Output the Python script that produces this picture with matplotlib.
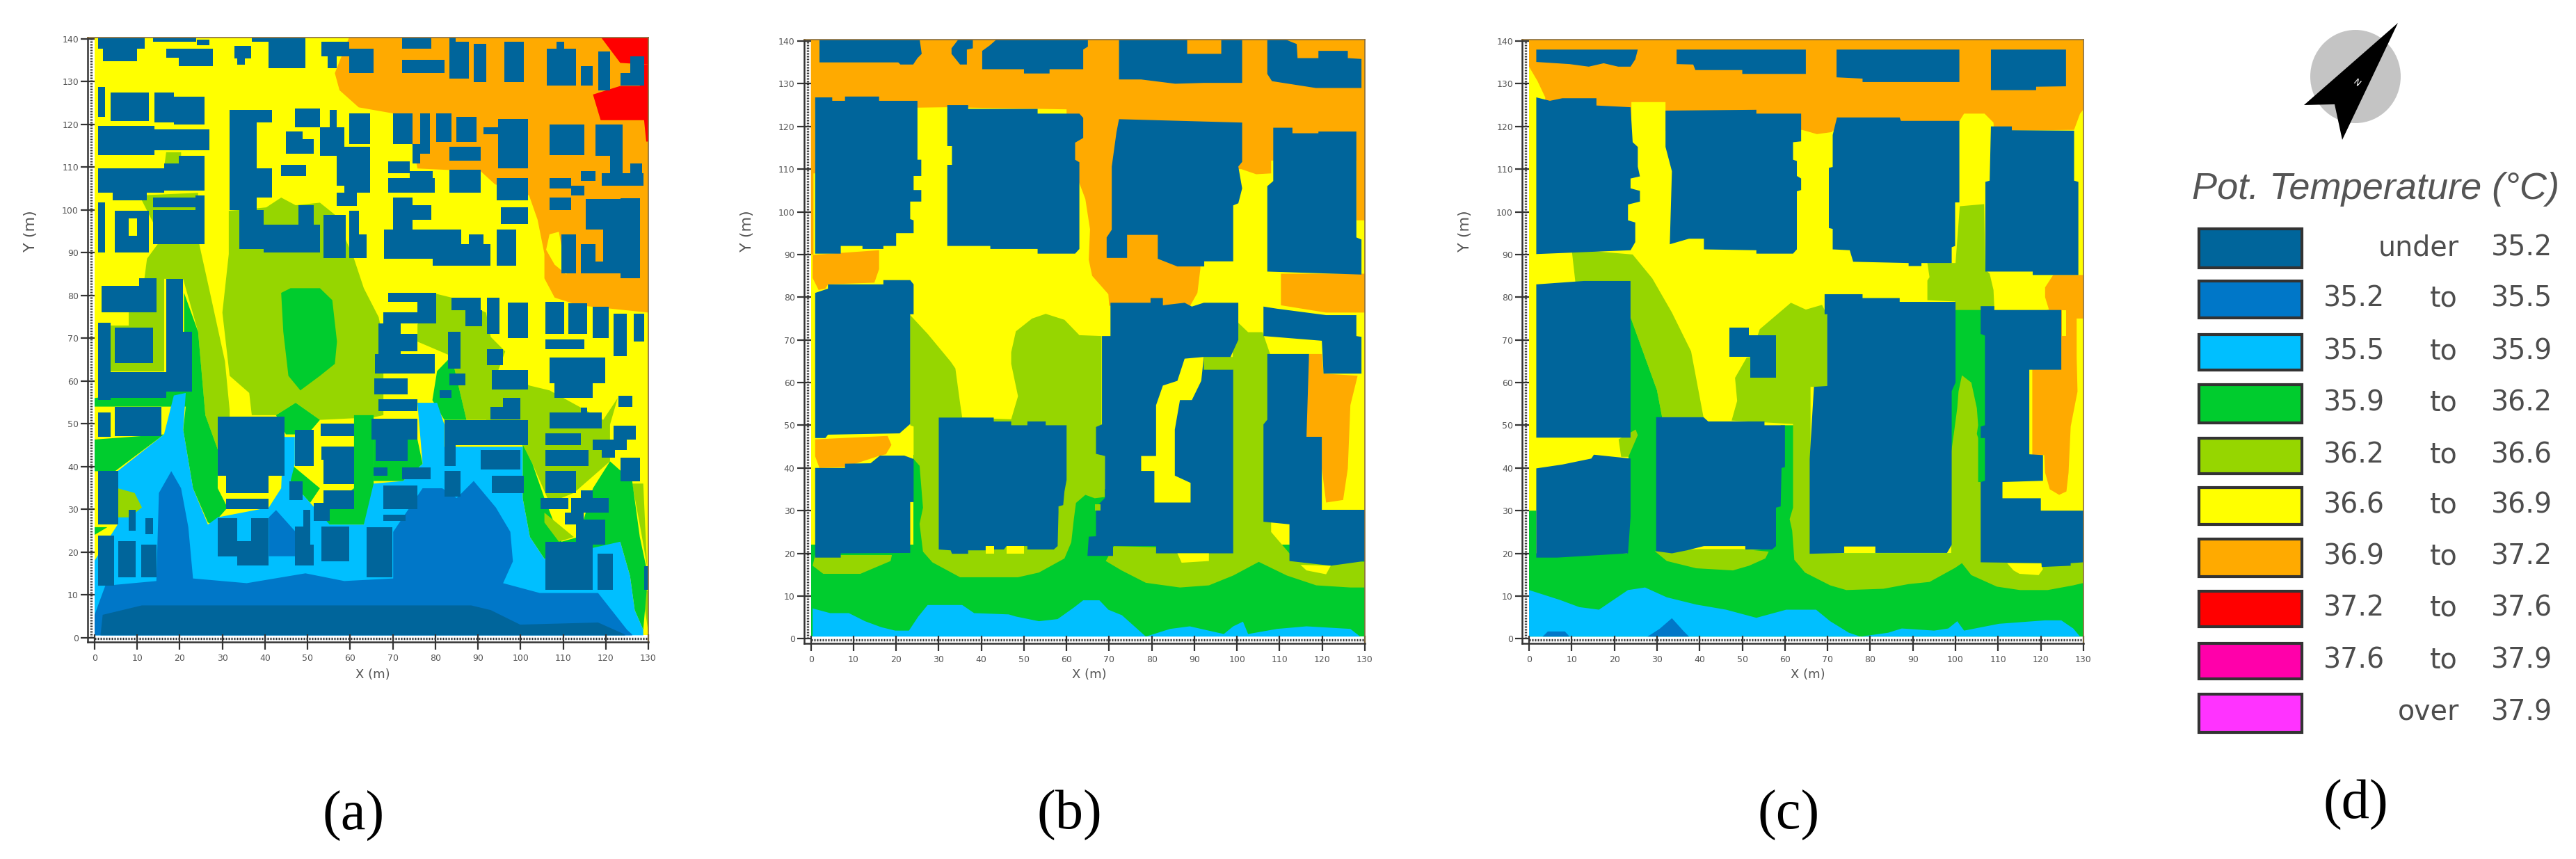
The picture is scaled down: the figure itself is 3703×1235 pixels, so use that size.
import matplotlib
matplotlib.use('Agg')
import matplotlib.pyplot as plt
from matplotlib.patches import Polygon, Rectangle, Ellipse

W, H = 3703, 1235

# legend classes, coolest first
level_colors = ['#00659b', '#0077c8', '#00bfff', '#00cc2e', '#96d600',
                '#ffff00', '#ffaa00', '#ff0000', '#ff00aa', '#ff33ff']
legend_low = ['under', '35.2', '35.5', '35.9', '36.2', '36.6', '36.9', '37.2', '37.6', 'over']
legend_high = ['35.2', '35.5', '35.9', '36.2', '36.6', '36.9', '37.2', '37.6', '37.9', '37.9']
DARK, BLUE, CYAN, GREEN, LIME, YELLOW, ORANGE, RED = range(8)

x_ticks = list(range(0, 131, 10))
y_ticks = list(range(0, 141, 10))

# ---- panel (a): (class, outline in metres), painted in this order
a_regions = [
    (ORANGE, [(59.8, 140.5), (56.4, 132), (57.5, 128), (62, 124), (70, 122.6), (74.7, 115), (75.8, 109.7),
              (90.7, 109), (94, 106), (102, 103.4), (104, 97.7), (105.6, 89.7), (105.6, 84), (108, 79.5),
              (113.6, 77.7), (130, 76), (130, 140.5)]),
    (YELLOW, [(106.8, 94.3), (109, 94.9), (110.8, 84.9), (108, 87.2), (106, 90.7)]),
    (RED, [(118.8, 140.5), (123.4, 134.4), (130, 134), (130, 140.5)]),
    (RED, [(117, 127), (118.8, 121), (129, 121), (129.5, 116), (130, 116), (130, 134), (128, 134),
           (128, 129), (123.4, 129)]),
    (LIME, [(30, 76), (31.5, 89.7), (31.5, 99.8), (34, 100), (40.3, 100.6), (43.8, 102.9), (47.2, 101.1),
            (52.9, 101.7), (56.4, 98.9), (60.9, 88.6), (63.2, 81.7), (66.7, 74.9), (67.8, 69.2), (67.8, 52),
            (65.5, 51.5), (52.9, 50.9), (47.2, 54.9), (42.6, 52), (36.9, 52), (36.3, 57.2), (31.7, 61.2)]),
    (LIME, [(10.5, 103.4), (24.3, 104), (24.3, 93.2), (27.1, 80.6), (30.6, 64.6), (31.7, 53.2), (31.7, 46.3),
            (28.9, 44), (26, 52), (24.3, 71.5), (20.8, 83.8), (11.7, 84), (12.3, 88.6), (15.7, 93.2)]),
    (LIME, [(16.3, 109.7), (16.8, 113.5), (20.3, 113.5), (20.3, 109.7)]),
    (LIME, [(3.7, 62.3), (16.3, 62.3), (16.3, 84), (14.5, 84), (14.5, 76), (8, 76), (8, 73), (3.7, 73)]),
    (LIME, [(79.3, 80.6), (83.8, 79.5), (91.9, 76), (93, 70.3), (96.4, 66.9), (94.7, 62.3), (102.2, 58.9),
            (106.8, 57.8), (119.4, 50.9), (122.8, 56), (121, 49.8), (121, 41.2), (112.5, 33.8), (106.8, 31.5),
            (102.8, 40.6), (100.5, 45.2), (91.9, 50.9), (87.3, 50.9), (83.8, 65.8), (75.8, 69.2), (75.8, 73.2)]),
    (LIME, [(126.2, 36), (128.8, 36), (129.7, 16.7), (128.3, 24.7)]),
    (LIME, [(128.5, 11), (130, 11), (130, 1.3)]),
    (GREEN, [(21, 80.6), (24.3, 71.5), (26, 52), (28.9, 44), (28.9, 34.9), (31.2, 30.4), (27.7, 26.4), (26.6, 26.9),
             (23.1, 34.9), (20.8, 48.6), (21.4, 54), (0, 54), (0, 56), (15.7, 58), (21, 58)]),
    (GREEN, [(0, 46.3), (16.3, 47.5), (4.8, 38.9), (0, 38.9)]),
    (GREEN, [(43.8, 80.6), (46, 81.7), (52.9, 81.7), (55.8, 78.9), (56.9, 69.2), (56.4, 64), (52.9, 61.2),
             (48.3, 57.8), (45.5, 61.2), (44.3, 71.5)]),
    (GREEN, [(42.6, 52), (47.2, 54.9), (52.9, 50.9), (50, 47.5), (44.9, 47.5)]),
    (GREEN, [(46, 40.6), (52.9, 34.9), (50.6, 31.5), (46, 36.6)]),
    (GREEN, [(60.9, 52), (65.5, 52), (65.5, 30.4), (63.2, 26.4), (55.2, 26.4), (51.6, 28.1), (60.9, 34.9)]),
    (GREEN, [(75.8, 46.3), (77, 40.6), (72.4, 36.6), (65.5, 36.6), (65.5, 46.3)]),
    (GREEN, [(80.4, 62.3), (83.8, 65.8), (87.3, 50.9), (82.1, 50.9), (79.3, 55.5)]),
    (GREEN, [(100.5, 45.2), (102.8, 40.6), (105.6, 32.6), (109.6, 22.4), (113.6, 23.5), (117, 34.9), (121, 41.2),
             (126.2, 36.6), (128, 23.5), (129.7, 15.5), (129.7, 12.1), (128.8, 1.8), (126.8, 6.4), (125.7, 14.4),
             (123.4, 22.4), (118.2, 20), (105.6, 18.4), (102.2, 23.5), (100.5, 32.6)]),
    (LIME, [(105.6, 29.2), (112.5, 23.5), (109, 22.4), (105.6, 26.9)]),
    (CYAN, [(0, 18), (5.4, 26.4), (5.4, 38.9), (16.3, 47.5), (18.6, 56.6), (21.4, 57.2), (20.8, 48.6), (23.1, 34.9),
            (26.6, 26.4), (28.9, 28.1), (40.9, 30.4), (43.8, 34.9), (44.3, 46.9), (47, 46.9), (47, 40.6), (46, 36.6),
            (50.6, 31.5), (55.2, 26.4), (63.2, 26.4), (65.5, 36), (72.4, 36.6), (77, 40.6), (75.8, 54.9), (80.4, 54.9),
            (82.1, 49.8), (82.1, 44.6), (100.5, 44.6), (100.5, 32.6), (102.2, 23.5), (105.6, 18.4), (123.4, 22.4),
            (125.7, 14.4), (126.8, 6.4), (128.8, 1.8), (128.8, 0.5), (0, 0.5)]),
    (GREEN, [(0, 25.8), (3, 25.8), (0, 24)]),
    (LIME, [(5.4, 34.9), (9.4, 33.8), (11.1, 30.4), (8.2, 28.1), (5.4, 28.1)]),
    (BLUE, [(0, 5.3), (2.5, 12.1), (14.5, 13.2), (15.1, 33.8), (18, 38.9), (20.3, 34.9), (22, 25.8), (23.1, 13.8),
            (35.7, 12.7), (49.5, 15), (58.6, 13.2), (70.1, 13.8), (70.1, 24.7), (77, 34.9), (81.6, 34.9), (85, 32.6),
            (89, 36.6), (94.2, 30.4), (97.6, 24.7), (98.2, 17.8), (95.9, 12.7), (104.5, 10.4), (118.2, 10.4),
            (125, 1.8), (126.2, 0.7), (126.2, 0.5), (0, 0.5)]),
    (BLUE, [(40.9, 28.1), (42.6, 29.8), (47.2, 24.7), (47.2, 19), (40.9, 19)]),
    (DARK, [(1.4, 0.7), (1.9, 5.3), (11.1, 7.5), (88.4, 7.5), (93, 6.4), (99.9, 3), (118.2, 3.5), (124.5, 0.7),
            (124.5, 0.5), (1.4, 0.5)]),
]

# buildings of (a): x0, y0, x1, y1 in metres
a_buildings = [
    (0.8, 137.7, 11.7, 140.5), (2, 134.8, 10, 137.7), (16.8, 135.6, 27.7, 137.7), (19.7, 133.7, 27.7, 135.6),
    (13.7, 139.4, 23.8, 140.5), (36.9, 139.4, 44, 140.5),
    (24, 138.6, 26.9, 139.9), (32.9, 135.4, 36.7, 138.3), (33.4, 134, 35.2, 135.4), (40.9, 133.1, 49.5, 139.4),
    (43.8, 139.4, 49.5, 140.5), (53.2, 136, 59.8, 139.4), (54.7, 133.1, 56.9, 136), (59.8, 132, 65.5, 137.7),
    (72.2, 137.7, 79, 140.5), (72.2, 132, 82.1, 135.2), (83.3, 130.8, 84.8, 140.5), (84.8, 130.8, 87.9, 139.4),
    (89, 129.9, 91.9, 138.8), (96.2, 129.9, 100.8, 139.4), (106.2, 129.1, 113, 137.7), (108.5, 137.7, 110.2, 139.4),
    (114.2, 129.1, 117, 133.7), (118.2, 128, 121, 137.1), (123.4, 129.1, 129.1, 132), (125.7, 132, 129.1, 136),
    (0.8, 121.7, 2.5, 128.8), (3.7, 120.8, 12.8, 127.4), (14, 120.5, 18.6, 127.4), (18.6, 120, 25.8, 126.5),
    (0.8, 112.8, 14, 119.6), (14, 113.9, 26.9, 118.8), (0.8, 104, 16.3, 109.7), (16.3, 104.6, 25.8, 110.8),
    (19.7, 110.8, 25.8, 112.6), (4.2, 102.3, 12.3, 104), (0.8, 90, 2.5, 101.7), (4.8, 90, 12.8, 99.8),
    (13.7, 100.6, 25.8, 102.9), (13.7, 92, 25.8, 100), (23.7, 100, 25.8, 103.4),
    (31.7, 120.5, 41.7, 123.4), (31.7, 100, 38, 120.5), (38, 102.9, 41.7, 109.7), (34, 90.9, 39.7, 100),
    (39.7, 90, 52.9, 96.6), (47.8, 96.6, 51.5, 101.1), (53.8, 88.8, 58.9, 98.9), (59.8, 88.8, 62, 99.8),
    (62, 88.8, 63.8, 94.3), (43.8, 108, 49.7, 110.5), (44.9, 113.1, 48.9, 118.3), (48.9, 113.1, 51.5, 116.6),
    (47, 119.4, 52.9, 123.7), (55.2, 119.4, 56.9, 123.4), (52.9, 112.6, 58.6, 119.4), (59.8, 115.4, 64.6, 122.6),
    (56.9, 105.7, 64.6, 114.8), (58.6, 104, 64.6, 105.7), (56.9, 101, 61.5, 104),
    (70.1, 115.4, 74.7, 122.6), (76.4, 113.1, 78.7, 122.6), (80.2, 116, 83.8, 122.6), (85, 116, 89.6, 121.7),
    (91.3, 117.7, 95.3, 119.4), (94.7, 109.7, 101.8, 121.3), (83.3, 111.6, 90.7, 114.8), (83.3, 104, 90.7, 109.4),
    (74.7, 110.8, 76.4, 115.4), (69, 108.6, 74, 111.4), (69, 104, 79.8, 107.4), (74, 107.4, 79.3, 109.1),
    (94.4, 102.3, 101.8, 107.4), (95.3, 96.8, 101.8, 100.6), (70.1, 95.4, 74.7, 102.9), (74.7, 97.7, 79, 101.1),
    (68, 88.6, 86.1, 95.4), (79.3, 86.9, 93, 92), (87.9, 92, 91.3, 94.3), (94.4, 86.9, 99, 95.4),
    (106.8, 112.8, 115, 120), (117.6, 112.6, 123.9, 120), (121, 108.6, 123.9, 112.6), (119.1, 105.7, 128.8, 108.6),
    (125.7, 108.6, 128.5, 110.8), (114.2, 106.8, 117.6, 109.1), (106.8, 105, 111.9, 107.4), (111.9, 103.4, 115, 105.7),
    (106.8, 100, 111.9, 102.9), (115.3, 95.4, 123.4, 102.5), (123.4, 84, 128, 102.7), (119.4, 85.2, 123.4, 95.4),
    (114.2, 85.2, 117.6, 92), (109.6, 85.2, 113, 94.3), (117.6, 85.2, 119.4, 88),
    (69, 78.5, 80.2, 80.6), (75.8, 76, 80.2, 78.5), (67.8, 73.5, 80.2, 76), (66.7, 62.3, 71.8, 73.5),
    (71.8, 67, 75.8, 71), (65.8, 61.8, 79.8, 66.3), (83.8, 76.6, 90.7, 79.5), (87, 72.8, 91, 76.6),
    (92.1, 71, 95, 79.5), (97, 70.1, 101.8, 78.3), (105.8, 71, 110.2, 78.5), (111.3, 71, 115.7, 78.1),
    (117, 70.1, 120.7, 77.4), (121.9, 65.8, 125, 75.8), (126.5, 69.2, 129.1, 75.8), (105.8, 67.5, 115, 69.7),
    (106.8, 59.5, 119.9, 65.5), (107.9, 56, 117, 59.5), (83, 62.9, 85.9, 71.5), (83.3, 58.9, 87, 61.8),
    (81, 56, 83.8, 57.8), (92.1, 63.7, 95.9, 67.5), (93.2, 58, 101.8, 62.6), (93, 51, 99.9, 54),
    (95.9, 54, 99.9, 56), (65.7, 56.8, 73.5, 60.6), (66.7, 53, 75.8, 55.7),
    (65, 46.3, 75.8, 51.1), (66, 41.2, 73.5, 46.3), (82.1, 45, 101.8, 50.9), (82.1, 40.1, 84.8, 45),
    (90.7, 39.3, 99.9, 43.8), (65.5, 37.8, 68.7, 39.7), (72.2, 37, 78.9, 39.7), (82.1, 32.9, 85.9, 38.9),
    (93.2, 33.8, 100.8, 37.8), (28.9, 37.8, 44.6, 51.7), (30.9, 33.8, 40.9, 39.7), (30.9, 30, 40.9, 32.5),
    (47, 40.1, 51.5, 48.6), (53, 47.1, 60.9, 50), (53.2, 41.6, 60.9, 44.6), (53.8, 35.8, 60.9, 41.6),
    (45.7, 32.1, 48.9, 36.6), (53.8, 30, 60.9, 34.4), (51.5, 27.2, 55.2, 31.5), (67.8, 30, 75.8, 35.5),
    (67.8, 27.2, 73, 28.7),
    (1.6, 76, 14.5, 82.3), (10.5, 82.3, 14.5, 84), (16.8, 71.5, 20.8, 83.8), (0.8, 55.5, 3.7, 73.7),
    (4.8, 64.2, 13.7, 72.4), (16.8, 60, 22.9, 71.5), (3.7, 56, 16.8, 62), (16.8, 57.5, 22.9, 60),
    (0.8, 46.9, 3.7, 52.6), (4.8, 47.1, 15.7, 54), (0.8, 26.4, 5.6, 38.9), (8, 25, 9.7, 29.8),
    (11.9, 24.1, 13.7, 27.9), (0.8, 12.1, 4.6, 23.9), (5.6, 14, 9.7, 22.6), (11, 14, 14.5, 21.8),
    (28.9, 19, 33.4, 27.9), (33.4, 16.9, 40.9, 22.6), (36.7, 22.6, 40.9, 27.9), (47, 16.9, 51.5, 21.8),
    (49, 21.8, 50.7, 29.8), (47, 21.8, 49, 26), (53.2, 17.8, 59.8, 26), (63.8, 14, 69.9, 25.8),
    (105.8, 11.2, 117, 22.4), (118, 11.2, 121.6, 19.6),
    (106.8, 48.9, 119, 52.6), (114.2, 52.6, 115.7, 53.8), (105.8, 45, 114.2, 47.7), (105.8, 40.1, 115.9, 43.8),
    (105.8, 33.8, 113, 38.9), (104.7, 30, 111.3, 32.6), (111.9, 29.2, 120.7, 32.6), (114.2, 32.6, 117, 34.4),
    (110.4, 26.4, 114.8, 29.2), (113, 21.8, 119.9, 27.5), (121.9, 46.3, 127.1, 49.5), (117, 43.8, 125, 46.3),
    (119.1, 42, 122.2, 43.8), (123.4, 36.6, 128, 42), (123, 54, 126.2, 56.6), (129.1, 11.2, 130, 16.7),
]
a_on_top = [
    (YELLOW, [(8, 94), (10, 94), (10, 98), (8, 98)]),
]

# ---- panel (b)
b_regions = [
    (ORANGE, [(0, 140.5), (130, 140.5), (130, 98), (128, 98), (128, 112), (108, 112), (108, 109), (104.5, 108.8),
              (101, 110), (90, 110), (91.4, 88), (91.4, 86.7), (90.7, 81), (89, 78), (70, 78), (69.8, 80.7), (66, 85),
              (65.2, 88.8), (65.5, 95.9), (64.4, 103), (63, 106.7), (60, 112), (60, 124), (32, 124.5), (25, 124.4),
              (20, 124), (1, 124), (1, 112), (2, 111.5), (2, 109), (0.6, 109), (0.6, 90), (0, 90)]),
    (ORANGE, [(0.4, 89.9), (16, 91), (16, 86.6), (14.9, 83.4), (4, 83), (3.4, 82), (1.8, 81.7), (0.4, 84.5)]),
    (ORANGE, [(110.3, 85.5), (130, 85.5), (130, 76.4), (120.9, 76.4), (110.3, 78.1)]),
    (ORANGE, [(1, 46.7), (18, 47.5), (18.9, 45.4), (17.6, 43.2), (16.2, 42.9), (8, 40.2), (2, 40), (1, 42.7)]),
    (ORANGE, [(116.9, 66.7), (119.9, 66.7), (120.3, 62.1), (128.3, 61.6), (126.6, 54.7), (126, 39.9), (124.9, 32.5),
              (120.9, 31.9), (119.9, 39.9), (119.9, 47.3), (116.3, 47.3), (116.3, 62)]),
    (GREEN, [(0, 22), (24, 22), (24, 43), (27, 43), (27, 22), (58, 22), (58, 35), (70, 35), (70, 22), (130, 22),
             (130, 0.5), (0, 0.5)]),
    (LIME, [(1, 19.6), (19, 19.6), (18.7, 18.2), (11.6, 15.2), (2.9, 15.2), (0.4, 17.1)]),
    (LIME, [(23.3, 75.8), (27.4, 71.4), (32.8, 64.9), (33.9, 63.3), (35, 55.2), (35.5, 51.8), (47, 51.4), (48.6, 56.8),
            (47, 64.4), (47, 67.1), (48.1, 72), (51.9, 75), (55.1, 76.1), (59.5, 74.7), (63, 71.1), (68.2, 70.9),
            (68.2, 43), (69, 43), (69, 33.2), (66.6, 32.9), (64.4, 33.7), (62.2, 31.8), (61.7, 28), (61.1, 22.6),
            (59.5, 18.8), (53.5, 15.5), (48.6, 14.4), (35, 14.4), (28.5, 17.9), (26.3, 20.4), (25.5, 26.9), (26.3, 30.7),
            (25.5, 40.5), (24.1, 42.1), (24.1, 49.7), (23.3, 50)]),
    (LIME, [(100.3, 74), (102.6, 71.8), (106, 71.8), (108, 66), (108, 25), (112.3, 20), (130, 18), (130, 12),
            (126.6, 12), (118.6, 12.5), (111.7, 14.8), (105.1, 18), (99.1, 14.8), (93.4, 12.5), (86.6, 12), (78.6, 13.1),
            (72.9, 16), (69.2, 18.2), (71.1, 21.7), (99, 21), (99, 68)]),
    (CYAN, [(0.4, 7.1), (4.5, 6), (8.9, 6), (12.7, 4.1), (16.5, 2.7), (19.8, 1.9), (23, 1.9), (25.2, 5.2), (27.4, 7.9),
            (35.5, 7.9), (38.3, 6), (46.4, 5.7), (48.1, 5.2), (53.5, 4.1), (57.9, 4.6), (61.7, 7.3), (63.9, 9), (67.7, 9),
            (69.8, 6.8), (73, 5.5), (78.6, 0.5), (84.3, 2.3), (88.9, 2.9), (96.9, 1.1), (99.1, 2.9), (101.4, 4), (102.6, 1.1),
            (109.4, 2.3), (116.3, 2.9), (126.6, 2.3), (128.9, 0.5), (0.4, 0.5)]),
]

# building outlines of (b), in metres
b_buildings = [
    [(2, 140.5), (25.5, 140.5), (26, 137), (25, 136), (24, 134.5), (21, 134.5), (20.5, 135), (2, 135)],
    [(34.7, 140.5), (38, 140.5), (38, 138.3), (36.6, 138), (36.6, 134.5), (35, 134.5), (33, 137), (33, 138.3)],
    [(43.7, 140.5), (65, 140.5), (65, 138.7), (63.9, 138), (63.9, 133.4), (56, 133.4), (56, 132.4), (50, 132.4),
     (50, 133.4), (40.2, 133.4), (40.2, 137.7), (42, 139)],
    [(72.3, 140.5), (88.3, 140.5), (88.3, 137), (96.3, 137), (96.3, 140.5), (101.2, 140.5), (101.2, 130.2), (92.3, 130.2),
     (85.5, 130), (77.5, 131), (72.3, 131)],
    [(107.1, 140.5), (111, 140.5), (114, 139.3), (114.2, 136), (119.1, 136), (119.1, 137.7), (126, 137.7), (126, 136),
     (129.2, 135.8), (129.2, 129), (118.5, 129), (108.2, 130.6), (107.1, 132.3)],
    [(1, 126.8), (5, 126.8), (5, 126), (8, 126), (8, 127), (16, 127), (16, 126), (25, 126), (25, 112.2), (25.9, 112.2),
     (25.9, 108.4), (24.1, 108.4), (24.1, 105.1), (25.9, 105.1), (25.9, 102.4), (23.3, 102.4), (23.3, 98.3), (24.1, 98),
     (24.1, 95), (20, 95), (20, 92), (17, 92), (17, 91.3), (12.1, 91.3), (12.1, 92), (7, 92), (7, 90.2), (1, 90.2)],
    [(32, 125), (36.9, 125), (36.9, 124.1), (53.2, 124.1), (53.2, 123), (63, 123), (63.9, 122), (63.9, 117.3), (62, 116.2),
     (62, 112.2), (63, 111.6), (63, 91.3), (62, 90.2), (53.2, 90.2), (53.2, 91.3), (42.1, 91.3), (42.1, 92), (32, 92),
     (32, 111), (33.1, 111), (33.1, 115.4), (32, 115.4)],
    [(108.5, 119.7), (113, 119.7), (113, 118.4), (119.1, 118.4), (119.1, 118.8), (128, 118.8), (128, 94), (129.2, 93.5),
     (129.2, 85.3), (107.1, 86), (107.1, 106), (108.5, 107.2)],
    [(72.3, 121.7), (101.2, 120.9), (101.2, 111.7), (100.3, 110.6), (101.2, 105.5), (100.3, 102), (99.1, 101.5), (99.1, 88.4),
     (92.3, 88.4), (92.3, 87.2), (86, 87.2), (81.4, 89), (81.4, 94.6), (74.2, 94.6), (74.2, 89.2), (69.4, 89.2), (69.4, 94),
     (70.6, 95.8), (70.6, 110.6), (71.7, 118.6)],
    [(1, 81), (4, 82), (4, 83), (17, 83), (17, 84), (23.3, 84), (24.1, 83), (24.1, 76), (23.3, 76), (23.3, 50.3), (20.8, 48.1),
     (4, 47.8), (3.4, 47), (1, 47)],
    [(1, 40), (8, 40), (8, 41), (14, 41.1), (16.2, 42.9), (21.9, 42.9), (24.1, 42.1), (24.1, 32), (23.3, 32), (23.3, 20.1),
     (7, 20), (7, 19), (1, 19)],
    [(30, 51.8), (42.9, 51.8), (42.9, 50.9), (47, 50.9), (47, 50), (50.8, 50), (50.8, 50.9), (55.1, 50.9), (55.1, 50), (60, 50),
     (60, 37.2), (59.5, 34.5), (59.2, 31.3), (58.1, 31), (58.1, 29.6), (57.9, 21.7), (57, 20.9), (50.8, 20.9), (50.8, 21.7),
     (45.9, 21.7), (45.3, 20.9), (42.9, 20.9), (42.9, 21.7), (41, 21.7), (41, 20.7), (36.9, 20.7), (36.9, 19.9), (33.1, 19.9),
     (32.8, 20.7), (30, 20.9)],
    [(68.3, 70.9), (70.3, 70.9), (70.3, 78.7), (79.7, 78.7), (79.7, 79.8), (82.6, 79.8), (82.6, 78.1), (87.7, 78.7),
     (89.4, 77.8), (92.2, 78.7), (100.3, 78.7), (100.3, 70), (98.5, 66.1), (99.1, 63), (99.1, 20), (81, 20), (81, 21.7),
     (70.9, 21.7), (70.9, 19.4), (64.9, 19.4), (65.2, 23.9), (66.9, 24), (66.9, 30.8), (69, 33), (69, 42.8), (66.9, 43.3),
     (66.9, 49.6), (68.3, 50.2)],
    [(106.2, 77.8), (109.4, 77.3), (120.9, 75.8), (128, 75.8), (128, 70.9), (129.2, 70.7), (129.2, 62.1), (120.3, 62.1),
     (119.9, 69.8), (106.2, 70.9)],
    [(107.1, 66.7), (116.9, 66.7), (116.3, 47.3), (119.9, 47.3), (119.9, 30.2), (130, 30.2), (130, 18.2), (122, 17.1),
     (112.3, 18.2), (112.3, 26.8), (106.2, 27.4), (106.2, 50.2), (107.1, 51.3)],
]
b_on_top = [
    (YELLOW, [(87.7, 65.6), (92.2, 66), (91.6, 60.4), (89.4, 55.9), (86.6, 55.9), (85.4, 49), (85.4, 38.2), (89.1, 36.5),
              (89.1, 31.9), (80.6, 31.9), (80.6, 39.3), (77.5, 39.3), (77.5, 42.8), (81, 42.8), (81, 54.7), (82.6, 59.3),
              (86, 60.4)]),
    (LIME, [(92.2, 66), (99.5, 66), (99.1, 63), (92.2, 63)]),
    (LIME, [(66.7, 30), (68, 30), (68, 31.5), (66.7, 31.5)]),
    (YELLOW, [(41, 20), (43, 20), (43, 21.7), (41, 21.7)]),
    (YELLOW, [(46, 20), (50, 20), (50, 21.7), (46, 21.7)]),
    (YELLOW, [(86, 20), (93.4, 20), (93.4, 18.2), (87, 17.8)]),
    (YELLOW, [(114.9, 17.3), (122, 17.1), (120.9, 15.1), (116.3, 16)]),
]

# ---- panel (c)
c_regions = [
    (ORANGE, [(0, 140.5), (130, 140.5), (130, 124), (129.2, 123), (127.8, 119.2), (109, 119), (108.9, 120.9), (106.8, 123),
              (102, 123), (101, 121.4), (100, 119), (71, 119), (71.2, 118.7), (67.5, 118.2), (64, 119.2), (63, 119), (32, 119),
              (32, 125.7), (24, 125.7), (24, 120), (3.8, 120), (3.8, 126.8), (2, 130.6), (0, 134)]),
    (ORANGE, [(122.9, 85.2), (130, 85.2), (130, 75), (128.4, 75), (128.4, 66), (128.6, 57.9), (127, 49.7), (126.5, 38.9),
              (126, 34.5), (124.3, 33.7), (122.1, 35), (121, 38.9), (120.8, 43), (118, 43), (118, 76), (121.9, 77.1),
              (121, 80), (121, 82.3)]),
    (YELLOW, [(125, 71), (126, 71), (126, 77), (125, 77)]),
    (LIME, [(10, 91.2), (10.9, 83.2), (23.8, 83.8), (23.8, 75.3), (30, 58.2), (31.2, 51.9), (40.9, 51.9), (38, 67.3),
            (33.5, 76.4), (28.9, 84.4), (24.3, 90)]),
    (LIME, [(101, 101.3), (106.7, 101.8), (107, 86.4), (108, 85.5), (108.9, 81.7), (109.1, 77.4), (106, 77), (103.4, 75.8),
            (100, 77), (99.9, 79), (93.4, 79.3), (93.4, 83.9), (93.9, 84.7), (93.4, 88), (100, 88)]),
    (GREEN, [(0, 30), (1.7, 30), (1.7, 20), (23, 20), (23.8, 75.3), (30, 58.2), (31.2, 51.9), (33, 20), (57, 21), (59, 50),
             (63, 50), (63, 20), (99, 20), (99, 77), (107, 77), (107, 20), (130, 14), (130, 0.5), (0, 0.5)]),
    (LIME, [(21, 46.7), (25, 49), (25.5, 47.7), (23.3, 42.6), (21.6, 42.6)]),
    (LIME, [(54.1, 72.5), (61.4, 78.7), (64.9, 77.1), (68.7, 78.2), (69.9, 75.8), (69.9, 59), (66, 59), (66, 20), (99, 20),
            (99, 43.8), (99.6, 48), (100.4, 54), (100.7, 57.9), (101.5, 61.7), (103.7, 60), (105, 54), (105.3, 50), (105, 48),
            (105.3, 47), (105.3, 36.7), (106, 36.7), (106, 18), (130, 18), (130, 13), (129.7, 13), (127.6, 12.5), (121.6, 11.4),
            (115.1, 11.4), (109.7, 12.2), (103.7, 14.9), (101.5, 17.7), (99.9, 16.6), (93.9, 13.3), (89, 12.8), (83.1, 11.7),
            (74.4, 11.4), (70.6, 12.5), (64.7, 15.5), (62.2, 18.5), (61.7, 25.3), (61.1, 28), (61.9, 30.7), (61.9, 50.3),
            (47.5, 51.1), (48.8, 55.7), (48.3, 61.1), (51, 65.8), (51.9, 66)]),
    (LIME, [(29.5, 20.5), (32.3, 18.2), (39.2, 16.5), (47.8, 16), (51.6, 17.1), (55.4, 18.8), (56.2, 20.4), (50, 21), (40, 21)]),
    (CYAN, [(0, 11.4), (7.2, 9.1), (11.8, 7.4), (16.4, 6.8), (23.2, 11.4), (27.2, 12), (32.3, 9.7), (39.2, 8), (46.2, 6.8),
            (53.3, 4.9), (60.3, 6.8), (67.3, 6.8), (70.6, 4.1), (75, 1.4), (77.7, 0.5), (84.2, 1.4), (87.4, 2.4), (95, 1.9),
            (98.3, 2.4), (100.4, 4.1), (102, 1.9), (110.2, 3.5), (121, 4.3), (124.8, 4.3), (127.6, 2.4), (129.2, 0.5), (0, 0.5)]),
    (BLUE, [(3.2, 0.5), (4.4, 1.7), (8.4, 1.7), (9.5, 0.5)]),
    (BLUE, [(27.8, 0.5), (30.6, 2.3), (33.5, 4.8), (36.3, 1.7), (37.5, 0.5)]),
    (YELLOW, [(112.1, 17.7), (120, 17.7), (120.5, 16.3), (119.5, 14.9), (115, 15.2), (113.6, 16)]),
]

c_buildings = [
    [(1.7, 138), (25.5, 138), (24.9, 135.7), (23.8, 134), (20.9, 134), (17.5, 134.8), (14, 134), (9.5, 134.6), (1.7, 135.1)],
    [(34.6, 138), (64.9, 138), (64.9, 132.3), (50, 132.3), (50, 133.2), (39, 133.2), (38.5, 134.5), (34.6, 134.6)],
    [(72.1, 138), (100.9, 138), (100.9, 130.4), (78.2, 130.4), (78.2, 131.2), (72.1, 131.5)],
    [(108.3, 138), (125.9, 138), (125.9, 129.4), (118.9, 129.3), (118.9, 128.5), (108.3, 128.5)],
    [(1.7, 126.8), (4.9, 126), (7.8, 126.6), (15.8, 126.6), (15.8, 124.9), (23.8, 124.5), (24.3, 116.3), (25.5, 115.2),
     (25.5, 110.6), (26, 108.3), (23.8, 107.8), (23.8, 105.5), (26, 104.9), (26, 102.4), (23.2, 101.7), (23.2, 98), (24.9, 97.5),
     (24.9, 92.9), (23.8, 91), (1.7, 90.1)],
    [(32, 123.7), (53.3, 123.9), (53.3, 123), (63.8, 123), (63.8, 116.5), (61.9, 116.3), (61.9, 112.2), (62.8, 111.9),
     (62.8, 108.4), (63.8, 107.8), (63.8, 105.1), (62.8, 104.8), (62.8, 91.2), (61.9, 90.2), (53.3, 90.2), (53.3, 91),
     (41, 91.2), (41, 93.7), (37.5, 93.7), (33, 92.4), (33.5, 109.5), (32, 115.2)],
    [(72.2, 122.1), (86.9, 122.1), (87.2, 121.3), (100.9, 121.3), (100.9, 102.2), (99.9, 102.2), (99.9, 92), (99.1, 91.7),
     (99.1, 88), (92, 88), (92, 87.3), (89, 87.3), (89, 88), (76, 88.3), (75.2, 91), (71.2, 91.2), (71.2, 96), (70.3, 96.2),
     (70.3, 110.3), (71.2, 110.5), (71.2, 118)],
    [(108.3, 120), (113.2, 120), (113.2, 119.1), (127.8, 119), (127.8, 107.3), (128.8, 107), (128.8, 85.2), (118.1, 85.2),
     (118.1, 86), (107, 86), (107, 107), (108, 107.3)],
    [(1.7, 83), (12.9, 83.8), (23.8, 83.8), (23.8, 47.1), (1.7, 47.1)],
    [(1.7, 39.9), (7.8, 40.8), (14.6, 42.2), (15.2, 43.1), (23.8, 42.2), (23.8, 28.5), (23.2, 20), (6.6, 19), (1.7, 19)],
    [(29.8, 51.9), (40.9, 51.9), (42, 50.9), (55.2, 50.9), (55.2, 50), (60, 50), (60, 40.2), (59.2, 40), (59, 31), (57.9, 30.7),
     (57.9, 21.7), (57, 20.9), (50.7, 20.9), (50.7, 21.7), (41, 21.7), (37, 20.7), (33.5, 20), (29.8, 20.5)],
    [(47, 72.9), (51.6, 72.9), (51.6, 71.1), (57.9, 71.1), (57.9, 61.1), (51.9, 61.1), (51.9, 66), (47, 66)],
    [(69.3, 80.7), (78.2, 80.7), (78.2, 79.8), (86.9, 79.8), (86.9, 78.9), (100, 78.9), (100, 60), (99.1, 58), (99.1, 22),
     (98, 20.1), (81.2, 20.1), (81.2, 21.6), (73.9, 21.6), (73.9, 20.1), (65.8, 19.9), (65.8, 42.1), (66.8, 59), (69.9, 59.2),
     (69.9, 76), (69.3, 76)],
    [(105.9, 77.9), (109.1, 77.9), (109.1, 77), (124.8, 77), (124.8, 63), (117.3, 63), (117.3, 43.2), (120.5, 43), (120.5, 37),
     (111, 36.7), (111, 32.9), (120, 32.9), (120, 30), (130, 30), (130, 17.9), (127, 17.7), (127, 17.1), (120.2, 16.8),
     (120.2, 17.7), (105.9, 17.9), (105.9, 36.7), (106.9, 37), (106.9, 47), (105.9, 47), (105.9, 49.7), (106.9, 50),
     (106.9, 71), (105.9, 71.4)],
]


def draw_panel(fig, box, regions, rects, outlines, on_top):
    px0, px130, py0, py140 = box
    sx = (px130 - px0) / 130
    sy = (py0 - py140) / 140
    left, bottom = px0 - 1.6 * sx, py0 + 1.1 * sy
    top = py140 - 0.4 * sy
    ax = fig.add_axes([left / W, 1 - bottom / H, (px130 - left) / W, (bottom - top) / H])
    ax.set_xlim(-1.6, 130)
    ax.set_ylim(-1.1, 140.4)

    ax.add_patch(Rectangle((0, 0.5), 130, 140, fc=level_colors[YELLOW], lw=0))
    for level, pts in regions:
        ax.add_patch(Polygon(pts, fc=level_colors[level], lw=0))
    for x0, y0, x1, y1 in rects:
        ax.add_patch(Rectangle((x0, y0), x1 - x0, y1 - y0, fc=level_colors[DARK], lw=0))
    for pts in outlines:
        ax.add_patch(Polygon(pts, fc=level_colors[DARK], lw=0))
    for level, pts in on_top:
        ax.add_patch(Polygon(pts, fc=level_colors[level], lw=0))

    # the row of small grid ticks just inside the frame
    ax.plot([0, 130], [-0.2, -0.2], color='#333333', lw=2.4, ls=(0, (0.6, 0.6)))
    ax.plot([-0.8, -0.8], [0, 140], color='#333333', lw=2.4, ls=(0, (0.6, 0.6)))

    ax.set_xticks(x_ticks)
    ax.set_yticks(y_ticks)
    ax.tick_params(axis='x', direction='inout', length=16, width=1.6, color='#333333',
                   labelsize=9, labelcolor='#555555', pad=4)
    ax.tick_params(axis='y', direction='inout', length=15, width=1.6, color='#333333',
                   labelsize=9, labelcolor='#555555', pad=2)
    for side in ['left', 'bottom']:
        ax.spines[side].set_color('#333333')
        ax.spines[side].set_linewidth(1.8)
    for side in ['top', 'right']:
        ax.spines[side].set_color('#8a6d3b')
        ax.spines[side].set_linewidth(1.2)
    return ax


fig = plt.figure(figsize=(W / 100, H / 100), dpi=100, facecolor='white')

panel_boxes = [(136, 932, 916.5, 56), (1165.7, 1962, 918.3, 59), (2198, 2995, 918.3, 59)]
draw_panel(fig, panel_boxes[0], a_regions, a_buildings, [], a_on_top)
draw_panel(fig, panel_boxes[1], b_regions, [], b_buildings, b_on_top)
draw_panel(fig, panel_boxes[2], c_regions, [], c_buildings, [])

# everything else sits on one overlay in image pixels
ov = fig.add_axes([0, 0, 1, 1], facecolor='none')
ov.set_xlim(0, W)
ov.set_ylim(H, 0)
ov.axis('off')

for px0, px130, py0, py140 in panel_boxes:
    ov.text((px0 + px130) / 2 + 2, 970, 'X (m)', fontsize=13, color='#555555', ha='center', va='center')
    ov.text(px0 - 92, 332, 'Y (m)', fontsize=16, color='#555555', rotation=90, ha='center', va='center')

captions = ['(a)', '(b)', '(c)', '(d)']
caption_xy = [(508, 1173), (1537, 1172), (2571, 1172), (3386, 1157)]
for cap, (cx, cy) in zip(captions, caption_xy):
    ov.text(cx, cy, cap, fontsize=58, family='Liberation Serif', color='black', ha='center', va='center')

# compass
ov.add_patch(Ellipse((3386, 110), 130, 134, fc='#c4c4c4', lw=0))
ov.add_patch(Polygon([(3447, 33), (3312, 151), (3356, 150), (3367, 201)], fc='black', lw=0))
ov.text(3388, 119, 'N', fontsize=9, color='white', ha='center', va='center', rotation=-40)

# legend
ov.text(3415, 272, 'Pot. Temperature (°C)', fontsize=39, style='italic', family='Liberation Sans',
        color='#555555', ha='center', va='center')
swatch_rows = [(327, 387), (402, 459), (479, 534), (551, 610), (628, 683),
               (699, 756), (773, 831), (848, 903), (923, 978), (996, 1055)]
for i, (y0, y1) in enumerate(swatch_rows):
    ov.add_patch(Rectangle((3161, y0 + 2), 148, y1 - y0 - 4, fc=level_colors[i], ec='#333333', lw=3))
    yc = (y0 + y1) / 2 - 1
    if legend_low[i] in ('under', 'over'):
        ov.text(3535, yc, legend_low[i], fontsize=28.5, color='#4d4d4d', ha='right', va='center')
    else:
        ov.text(3340, yc, legend_low[i], fontsize=28.5, color='#4d4d4d', ha='left', va='center')
        ov.text(3513, yc, 'to', fontsize=28.5, color='#4d4d4d', ha='center', va='center')
    ov.text(3669, yc, legend_high[i], fontsize=28.5, color='#4d4d4d', ha='right', va='center')

fig.savefig('out.png', dpi=100, facecolor='white')
